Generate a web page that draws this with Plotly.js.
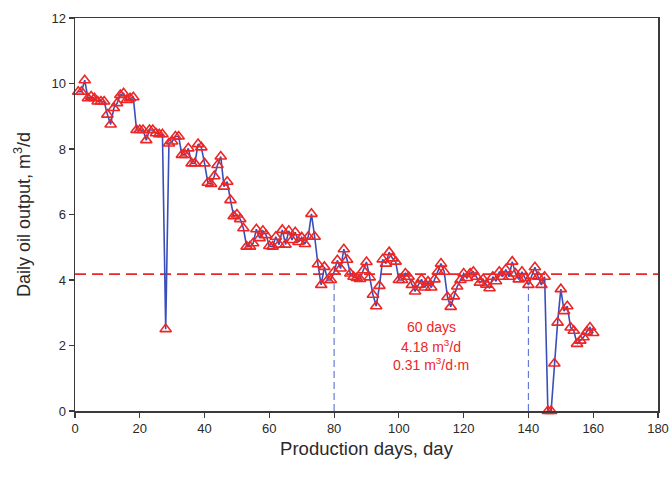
<!DOCTYPE html>
<html>
<head>
<meta charset="utf-8">
<script src="https://cdn.plot.ly/plotly-3.0.1.min.js"></script>
<style>
  html, body { margin: 0; padding: 0; background: #fff; }
  #chart { width: 670px; height: 477px; }
</style>
</head>
<body>
<div id="chart"></div>
<script>
// Production day of each measurement
const days = [
  1, 2, 3, 4, 5, 6, 7, 8, 9, 10,
  11, 12, 13, 14, 15, 16, 17, 18, 19, 20,
  21, 22, 23, 24, 25, 26, 27, 28, 29, 30,
  31, 32, 33, 34, 35, 36, 37, 38, 39, 40,
  41, 42, 43, 44, 45, 46, 47, 48, 49, 50,
  51, 52, 53, 54, 55, 56, 57, 58, 59, 60,
  61, 62, 63, 64, 65, 66, 67, 68, 69, 70,
  71, 72, 73, 74, 75, 76, 77, 78, 79, 80,
  81, 82, 83, 84, 85, 86, 87, 88, 89, 90,
  91, 92, 93, 94, 95, 96, 97, 98, 99, 100,
  101, 102, 103, 104, 105, 106, 107, 108, 109, 110,
  111, 112, 113, 114, 115, 116, 117, 118, 119, 120,
  121, 122, 123, 124, 125, 126, 127, 128, 129, 130,
  131, 132, 133, 134, 135, 136, 137, 138, 139, 140,
  141, 142, 143, 144, 145, 146, 147, 148, 149, 150,
  151, 152, 153, 154, 155, 156, 157, 158, 159, 160
];

// Daily oil output, m³/d
const dailyOutput = [
  9.75, 9.75, 10.1, 9.55, 9.6, 9.55, 9.45, 9.45, 9.45, 9.05,
  8.75, 9.25, 9.4, 9.65, 9.7, 9.5, 9.55, 9.58, 8.58, 8.58,
  8.58, 8.27, 8.58, 8.58, 8.48, 8.45, 8.45, 2.5, 8.17, 8.23,
  8.38, 8.38, 7.82, 7.82, 8.02, 7.56, 7.56, 8.15, 8.05, 7.56,
  6.97, 6.93, 7.17, 7.51, 7.77, 6.85, 7.0, 6.44, 5.95, 6.0,
  5.86, 5.58, 5.02, 5.02, 5.12, 5.55, 5.28, 5.5, 5.37, 5.04,
  5.02, 5.32, 5.08, 5.53, 5.08, 5.5, 5.22, 5.46, 5.16, 5.3,
  5.1, 5.32, 6.02, 5.32, 4.48, 3.85, 4.4, 4.0, 4.0, 4.25,
  4.6, 4.35, 4.94, 4.62, 4.2, 4.1, 4.06, 4.03, 4.3, 4.55,
  4.08, 3.55, 3.2, 3.82, 4.63, 4.5, 4.85, 4.66, 4.56, 4.0,
  4.0, 4.2, 4.1, 3.85, 3.65, 3.85, 4.02, 3.77, 3.95, 3.77,
  4.02, 4.25, 4.5, 4.25, 3.48, 3.18, 3.5, 3.8, 4.0, 4.2,
  4.06, 4.2, 4.25, 4.1, 3.92, 4.02, 3.86, 3.75, 4.1, 3.96,
  4.25, 4.1, 4.32, 4.1, 4.56, 4.2, 4.02, 4.25, 4.06, 3.85,
  4.12, 4.39, 4.1, 3.85, 4.1, 0, 0, 1.45, 2.7, 3.72,
  3.05, 3.2, 2.55, 2.45, 2.05, 2.15, 2.25, 2.42, 2.55, 2.38
];

// Stable production window and its average output
const windowStart = 80;
const windowEnd = 140;
const windowMarkerTop = [3.9, 3.8];
const averageOutput = 4.18;
const windowLabels = ["60 days", "4.18 m<sup>3</sup>/d", "0.31 m<sup>3</sup>/d·m"];
const labelDay = 110;
const labelLevels = [2.55, 2.0, 1.45];

// Axis ranges and ticks
const xRange = [0, 180];
const yRange = [0, 12];
const xTicks = [0, 20, 40, 60, 80, 100, 120, 140, 160, 180];
const yTicks = [0, 2, 4, 6, 8, 10, 12];

const red = "rgb(236,38,38)";
const blue = "rgb(58,78,186)";
const dashBlue = "rgb(100,125,210)";
const axisColor = "#3a3a3a";
const textColor = "#2a2a2a";
const fontFamily = "Liberation Sans, Arial, sans-serif";

const traces = [
  {
    x: [xRange[0], xRange[1]],
    y: [averageOutput, averageOutput],
    mode: "lines",
    line: { color: red, width: 1.8, dash: "11px,6px" },
    hoverinfo: "skip",
    showlegend: false
  },
  {
    x: [windowStart, windowStart],
    y: [0, windowMarkerTop[0]],
    mode: "lines",
    line: { color: dashBlue, width: 1.2, dash: "7px,4px" },
    hoverinfo: "skip",
    showlegend: false
  },
  {
    x: [windowEnd, windowEnd],
    y: [0, windowMarkerTop[1]],
    mode: "lines",
    line: { color: dashBlue, width: 1.2, dash: "7px,4px" },
    hoverinfo: "skip",
    showlegend: false
  },
  {
    x: days,
    y: dailyOutput,
    mode: "lines+markers",
    line: { color: blue, width: 1.6 },
    marker: {
      symbol: "triangle-up-open",
      size: 10,
      color: red,
      line: { color: red, width: 1.6 }
    },
    cliponaxis: false,
    showlegend: false
  }
];

const annotations = windowLabels.map((t, i) => ({
  x: labelDay,
  y: labelLevels[i],
  xref: "x",
  yref: "y",
  text: t,
  showarrow: false,
  font: { family: fontFamily, size: 14, color: red },
  xanchor: "center",
  yanchor: "middle"
}));

const layout = {
  width: 670,
  height: 477,
  margin: { l: 75, r: 12, t: 18, b: 66 },
  paper_bgcolor: "#ffffff",
  plot_bgcolor: "#ffffff",
  font: { family: fontFamily, color: textColor },
  showlegend: false,
  annotations: annotations,
  xaxis: {
    range: xRange,
    tickmode: "array",
    tickvals: xTicks,
    ticks: "outside",
    ticklen: 5,
    tickwidth: 1.2,
    tickcolor: axisColor,
    showline: true,
    linecolor: axisColor,
    linewidth: 1.5,
    mirror: true,
    showgrid: false,
    zeroline: false,
    tickfont: { size: 13, color: textColor },
    title: { text: "Production days, day", font: { size: 18.5, color: textColor }, standoff: 7 }
  },
  yaxis: {
    range: yRange,
    tickmode: "array",
    tickvals: yTicks,
    ticks: "outside",
    ticklen: 5,
    tickwidth: 1.2,
    tickcolor: axisColor,
    showline: true,
    linecolor: axisColor,
    linewidth: 1.5,
    mirror: true,
    showgrid: false,
    zeroline: false,
    tickfont: { size: 13, color: textColor },
    title: { text: "Daily oil output, m<sup>3</sup>/d", font: { size: 18, color: textColor }, standoff: 16 }
  }
};

Plotly.newPlot("chart", traces, layout, { displayModeBar: false, staticPlot: true });
</script>
</body>
</html>
